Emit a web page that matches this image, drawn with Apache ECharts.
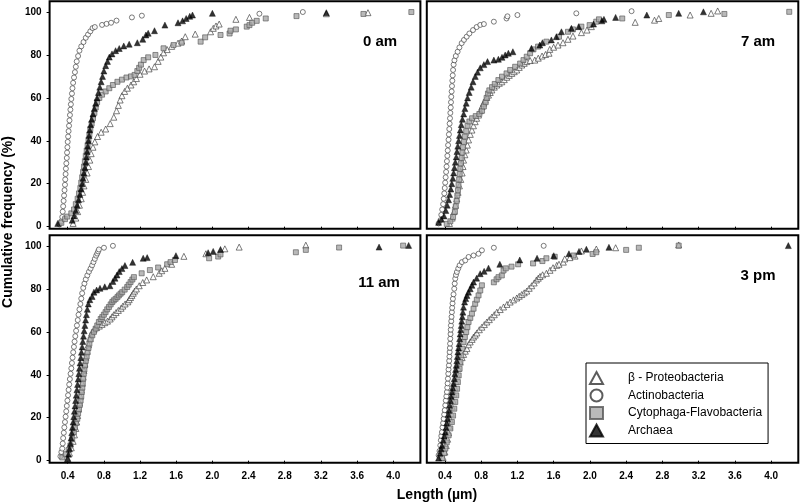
<!DOCTYPE html>
<html><head><meta charset="utf-8">
<script src="https://cdn.jsdelivr.net/npm/echarts@6/dist/echarts.min.js"></script>
<style>html,body{margin:0;padding:0;background:#fff}#c{width:800px;height:504px}</style>
</head><body><div id="c"></div>
<script>
const seriesNames = ['\u03B2 - Proteobacteria', 'Actinobacteria', 'Cytophaga-Flavobacteria', 'Archaea'];
const panelLabels = ['0 am', '7 am', '11 am', '3 pm'];
const xTicks = [0.4, 0.8, 1.2, 1.6, 2.0, 2.4, 2.8, 3.2, 3.6, 4.0];
const yTicks = [0, 20, 40, 60, 80, 100];
const xTitle = 'Length (\u00B5m)';
const yTitle = 'Cumulative frequency (%)';

// ---- 0 am ----
const beta0 = [[0.46,1.5],[0.49,4],[0.51,7],[0.53,10],[0.55,13],[0.565,16],[0.58,19],[0.60,22],[0.615,25],[0.63,28],[0.645,31],[0.66,34],[0.68,37],[0.70,39.5],[0.73,42],[0.77,44],[0.82,45.5],[0.87,48],[0.91,51],[0.94,54],[0.96,56.5],[0.98,59],[1.0,61],[1.03,63],[1.06,64.5],[1.10,66],[1.13,67.5],[1.16,69],[1.20,71],[1.25,72.5],[1.30,73.5],[1.36,74.5],[1.40,77],[1.43,79],[1.46,81],[1.50,82.5],[1.55,84],[1.62,85.5],[1.66,86.5],[1.70,88.5],[1.81,89.7],[1.98,90.8],[2.01,92.4],[2.04,93.5],[2.075,94.4],[2.26,96.6],[2.41,97.5],[3.26,99.2],[3.72,99.7]];
const actino0 = [[0.31,1],[0.33,2.5],[0.34,4.5],[0.345,7],[0.35,9.5],[0.355,12],[0.36,14.5],[0.365,17],[0.37,19.5],[0.373,22],[0.377,24.5],[0.38,27],[0.385,29.5],[0.39,32],[0.393,34.5],[0.397,37],[0.40,39.5],[0.405,42],[0.41,44.5],[0.415,47],[0.42,49.5],[0.425,52],[0.43,54.5],[0.435,57],[0.44,59.5],[0.447,62],[0.453,64.5],[0.46,67],[0.47,69.5],[0.48,72],[0.49,74.5],[0.50,77],[0.515,79.5],[0.53,82],[0.55,84],[0.575,86],[0.60,88],[0.625,89.5],[0.65,91],[0.675,92.5],[0.70,93],[0.78,94],[0.83,94.5],[0.88,95],[0.94,96],[1.11,97.5],[1.22,98.3],[2.52,99.2],[3.0,100]];
const cyto0 = [[0.33,1.8],[0.37,3.5],[0.395,4.7],[0.44,6.2],[0.47,8],[0.49,10.5],[0.51,13],[0.525,15.5],[0.54,18],[0.55,20.5],[0.56,23],[0.57,25.5],[0.58,28],[0.59,30.5],[0.60,33],[0.61,35.5],[0.62,38],[0.63,40.5],[0.64,43],[0.65,45.5],[0.665,48],[0.68,50.5],[0.695,53],[0.71,55.5],[0.725,58],[0.75,60],[0.78,61.5],[0.82,63],[0.86,64.5],[0.90,66],[0.95,67.5],[1.0,68.5],[1.05,69.5],[1.10,70],[1.14,70.7],[1.17,72.5],[1.19,74],[1.21,75.5],[1.24,77.6],[1.29,78.9],[1.37,80],[1.46,83.1],[1.57,84.6],[1.66,85.7],[1.87,86.2],[1.92,88.2],[2.09,89.3],[2.19,90],[2.2,91.3],[2.26,91.9],[2.38,93.2],[2.41,93.9],[2.44,95],[2.49,95.9],[2.59,97],[2.93,98.1],[3.67,99.1],[4.2,100]];
const arch0 = [[0.29,1.5],[0.45,3],[0.47,5],[0.49,7.5],[0.505,10],[0.52,12.5],[0.535,15],[0.548,17.5],[0.56,20],[0.57,22.5],[0.58,25],[0.59,27.5],[0.60,30],[0.607,32.5],[0.615,35],[0.622,37.5],[0.63,40],[0.637,42.5],[0.645,45],[0.655,47.5],[0.665,50],[0.68,52.5],[0.695,55],[0.71,57.5],[0.725,60],[0.74,62.5],[0.755,65],[0.77,67.5],[0.785,70],[0.80,72.5],[0.82,75],[0.84,77],[0.86,79],[0.89,80.5],[0.93,82],[0.97,83],[1.02,84.2],[1.08,85],[1.17,85.7],[1.23,87.3],[1.265,89.3],[1.29,90.1],[1.36,91.3],[1.475,93.9],[1.62,95],[1.67,95.9],[1.71,97],[1.75,98],[1.78,98.6],[2.0,99.4],[3.26,99.7]];

// ---- 7 am ----
const beta7 = [[0.45,1.5],[0.48,4],[0.50,7],[0.515,10],[0.53,13],[0.545,16],[0.56,19],[0.575,22],[0.59,25],[0.60,28],[0.606,31],[0.62,33.5],[0.635,35.7],[0.648,38],[0.661,40.4],[0.68,43],[0.698,45],[0.715,47],[0.734,48.9],[0.75,50.5],[0.771,52],[0.79,54],[0.808,55.9],[0.826,57.5],[0.844,59],[0.862,60.2],[0.881,61.3],[0.9,62.5],[0.918,63.7],[0.945,65],[0.973,66],[1.0,66.8],[1.028,67.5],[1.055,68.5],[1.083,69.6],[1.11,70.5],[1.138,71.4],[1.165,72.2],[1.193,73],[1.22,74.2],[1.248,75.3],[1.275,76.1],[1.303,76.9],[1.34,77.4],[1.392,77.6],[1.43,78.5],[1.472,79.5],[1.51,80.2],[1.549,80.8],[1.557,82.6],[1.60,83.6],[1.648,84.6],[1.703,85.7],[1.758,87.3],[1.813,88.8],[1.906,90.4],[1.968,91.6],[2.016,93.2],[2.5,95.2],[2.713,96.2],[2.76,97],[3.106,98.6],[3.338,99.4],[3.41,100.5]];
const actino7 = [[0.33,1.5],[0.35,3],[0.36,5.5],[0.37,8],[0.38,10.5],[0.387,13],[0.393,15.5],[0.398,18],[0.403,20.5],[0.408,23],[0.413,25.5],[0.418,28],[0.422,30.5],[0.427,33],[0.431,35.5],[0.435,38],[0.44,40.5],[0.444,43],[0.448,45.5],[0.452,48],[0.456,50.5],[0.46,53],[0.464,55.5],[0.467,58],[0.47,60.5],[0.474,63],[0.478,65.5],[0.482,68],[0.486,70.5],[0.49,73],[0.496,75.5],[0.505,77.5],[0.52,79.5],[0.54,81.5],[0.56,83.5],[0.585,85.5],[0.61,87],[0.64,88.5],[0.67,90],[0.71,91.6],[0.75,93],[0.79,94],[0.83,94.4],[0.94,95.5],[1.08,97],[1.09,98],[1.2,98.6],[1.85,99.4],[2.46,100.4]];
const cyto7 = [[0.42,1.3],[0.46,2.5],[0.49,4.5],[0.51,7],[0.52,9.5],[0.53,12],[0.537,14.5],[0.544,17],[0.55,19.5],[0.557,22],[0.563,24.5],[0.57,27],[0.577,29.5],[0.585,32],[0.593,34.5],[0.60,37],[0.61,39.5],[0.62,42],[0.635,44.5],[0.65,47],[0.67,49],[0.70,50.5],[0.74,51.5],[0.78,52.5],[0.81,54],[0.83,56],[0.85,58],[0.86,60],[0.875,62],[0.89,63.5],[0.92,65],[0.95,66.5],[0.99,68.3],[1.03,69.9],[1.08,71.4],[1.12,73],[1.175,74.5],[1.23,76],[1.267,77.6],[1.303,79.2],[1.34,80.8],[1.377,82.6],[1.428,83.9],[1.52,86.2],[1.659,88.5],[1.758,90.8],[1.813,91.9],[1.906,93.2],[1.997,93.9],[2.07,95.5],[2.1,96.6],[2.357,97],[2.871,98.6],[3.484,99.1],[4.2,100.1]];
const arch7 = [[0.33,2],[0.36,3.5],[0.39,5],[0.41,7.5],[0.425,10],[0.44,12.5],[0.452,15],[0.465,17.5],[0.476,20],[0.487,22.5],[0.496,25],[0.505,27.5],[0.515,30],[0.525,32.5],[0.533,35],[0.542,37.5],[0.551,40],[0.56,42.5],[0.57,45],[0.58,47.5],[0.593,50],[0.607,52.5],[0.62,55],[0.635,57.5],[0.65,60],[0.668,62.5],[0.69,65],[0.71,67.5],[0.735,70],[0.76,72],[0.79,74],[0.83,75.5],[0.87,76.9],[0.94,77.6],[0.99,78],[1.03,78.9],[1.065,80],[1.1,80.8],[1.15,81.5],[1.355,83.1],[1.447,84.6],[1.476,85.7],[1.575,87],[1.63,88.5],[1.686,90.8],[1.796,92.4],[1.876,93.2],[2.04,94.4],[2.133,95.9],[2.155,96.6],[2.284,97.5],[2.628,98.6],[2.98,99.4],[3.253,100.1]];

// ---- 11 am ----
const beta11 = [[0.40,1],[0.42,3.5],[0.44,6],[0.46,9],[0.475,12],[0.49,15],[0.50,18],[0.51,21],[0.52,24],[0.53,27],[0.54,30],[0.55,33],[0.56,36],[0.57,39],[0.58,42],[0.59,45],[0.60,48],[0.615,51],[0.63,54],[0.645,57],[0.665,59.5],[0.69,61],[0.72,62],[0.75,62.7],[0.78,63.5],[0.81,64.3],[0.84,65],[0.87,66],[0.89,67],[0.91,68],[0.935,69],[0.96,70],[0.99,71],[1.01,72],[1.035,73],[1.065,74],[1.08,75],[1.095,76],[1.11,77],[1.125,78],[1.14,79],[1.16,80],[1.191,81.5],[1.23,83],[1.273,84.2],[1.346,85.7],[1.412,87.3],[1.44,88.5],[1.475,89.6],[1.55,91.5],[1.685,95.2],[1.928,96.4],[2.138,98.7],[2.296,99.5],[3.033,100.4]];
const actino11 = [[0.32,2],[0.33,4],[0.34,5.6],[0.345,8],[0.35,10.5],[0.357,13],[0.363,15.5],[0.37,18],[0.377,20.5],[0.384,23],[0.39,25.5],[0.397,28],[0.404,30.5],[0.41,33],[0.417,35.5],[0.424,38],[0.432,40.5],[0.44,43],[0.447,45.5],[0.454,48],[0.461,50.5],[0.469,53],[0.476,55.5],[0.484,58],[0.493,60.5],[0.502,63],[0.511,65.5],[0.52,68],[0.53,70.5],[0.54,73],[0.55,75.5],[0.56,78],[0.572,80.5],[0.585,82.5],[0.60,84.5],[0.617,86.3],[0.635,88],[0.653,89.5],[0.67,91],[0.685,92.5],[0.70,94],[0.715,95.5],[0.727,96.5],[0.737,97.5],[0.745,98.4],[0.801,99.2],[0.9,100.1]];
const cyto11 = [[0.34,1.5],[0.38,3],[0.41,5],[0.43,7.1],[0.45,10],[0.469,13.3],[0.48,15.5],[0.49,17.5],[0.506,19.5],[0.515,22],[0.525,24],[0.535,26],[0.543,28],[0.55,30],[0.556,32],[0.562,34],[0.567,36],[0.572,38.2],[0.578,40.5],[0.585,42.5],[0.592,44.4],[0.60,46.5],[0.61,48.5],[0.62,50.5],[0.63,52.5],[0.64,54.5],[0.655,56.5],[0.672,58.4],[0.69,60],[0.709,61.5],[0.727,63],[0.745,64.6],[0.765,66],[0.782,66.9],[0.80,68],[0.819,69.2],[0.837,70.5],[0.856,71.6],[0.875,72.8],[0.893,73.9],[0.91,74.7],[0.93,75.4],[0.95,76.2],[0.966,77],[0.985,77.8],[1.003,78.5],[1.03,79.7],[1.058,80.9],[1.075,82],[1.095,83.2],[1.115,84.4],[1.132,85.5],[1.218,87.3],[1.309,88.8],[1.40,90],[1.50,91.5],[1.537,92.5],[1.586,93.5],[1.964,94.3],[2.064,95.1],[2.09,96.1],[2.923,97.1],[3.033,98.2],[3.401,99.3],[4.109,100.2]];
const arch11 = [[0.40,1],[0.41,3],[0.42,5.5],[0.43,8],[0.437,10.5],[0.445,13],[0.452,15.5],[0.46,18],[0.467,20.5],[0.474,23],[0.481,25.5],[0.488,28],[0.495,30.5],[0.502,33],[0.509,35.5],[0.516,38],[0.523,40.5],[0.53,43],[0.537,45.5],[0.545,48],[0.552,50.5],[0.56,53],[0.567,55.5],[0.575,58],[0.582,60.5],[0.59,63],[0.598,65.5],[0.607,68],[0.617,70.5],[0.628,73],[0.645,75],[0.67,76.5],[0.69,78.5],[0.72,79.5],[0.757,80.3],[0.81,81],[0.867,81.5],[0.9,83.5],[0.923,85],[0.945,86.5],[0.97,88.1],[1.0,89.5],[1.033,90.9],[1.118,92.4],[1.235,94.3],[1.279,94.6],[1.597,95.5],[1.953,96.9],[2.009,97.5],[2.09,98.4],[3.843,99.5],[4.17,100.3]];

// ---- 3 pm ----
const beta3 = [[0.38,1.5],[0.40,4],[0.415,7],[0.43,10],[0.44,13],[0.45,16],[0.46,19],[0.47,22],[0.48,25],[0.49,28],[0.50,31],[0.51,34],[0.52,37],[0.535,40],[0.55,43],[0.569,45.9],[0.59,48],[0.606,49.5],[0.625,51],[0.643,52.2],[0.66,54],[0.679,55.3],[0.70,56.5],[0.716,57.6],[0.735,58.5],[0.753,59.5],[0.78,61],[0.808,62.2],[0.835,63.4],[0.863,64.6],[0.89,65.7],[0.918,66.9],[0.945,68],[0.973,69.2],[1.01,70.4],[1.047,71.6],[1.085,72.8],[1.12,73.9],[1.157,74.9],[1.193,75.8],[1.22,76.6],[1.248,77.4],[1.275,78.2],[1.303,79],[1.33,80.3],[1.358,81.5],[1.385,82.8],[1.41,84.2],[1.43,85],[1.45,85.8],[1.478,86.6],[1.52,87.3],[1.56,88.7],[1.593,89.9],[1.634,91],[1.659,91.5],[1.707,92.5],[1.722,94],[1.78,94.6],[1.836,95.3],[1.906,97.7],[2.071,98.6],[2.284,99.2],[2.98,100.5]];
const actino3 = [[0.33,2.5],[0.34,4.5],[0.349,7.1],[0.355,9.5],[0.36,11.5],[0.367,13.3],[0.373,15.5],[0.38,17.5],[0.386,19.5],[0.392,21.5],[0.398,23.5],[0.404,25.8],[0.41,28],[0.416,30],[0.422,32],[0.426,34],[0.43,36],[0.433,38.2],[0.437,40.5],[0.44,42.5],[0.444,44.4],[0.447,46.5],[0.45,48.5],[0.452,50.6],[0.455,52.5],[0.457,54.5],[0.459,56.8],[0.462,59],[0.464,61],[0.466,63],[0.47,65],[0.473,67],[0.477,69.2],[0.48,71.2],[0.484,73.3],[0.488,75.4],[0.495,77.5],[0.503,80.1],[0.508,82.5],[0.514,84.8],[0.522,86.5],[0.532,87.9],[0.547,89.5],[0.562,91],[0.587,92.5],[0.624,93.3],[0.661,94.9],[0.716,95.6],[0.771,96.4],[0.808,98],[0.94,99.2],[1.49,100.1]];
const cyto3 = [[0.367,1.2],[0.39,3.5],[0.404,5.6],[0.42,8.5],[0.441,11.8],[0.46,15],[0.477,18],[0.49,21],[0.503,24.2],[0.514,27.3],[0.525,30.4],[0.534,33.5],[0.543,36.6],[0.552,39.7],[0.562,42.8],[0.571,46],[0.58,49],[0.593,52.2],[0.606,55.3],[0.62,57.6],[0.635,59.9],[0.648,62.2],[0.661,64.6],[0.68,66.5],[0.698,68.5],[0.716,70.8],[0.734,73.1],[0.752,75],[0.771,77],[0.79,79.3],[0.808,81.7],[0.94,83.1],[0.97,84.5],[0.991,85.5],[1.028,86.3],[1.047,88.6],[1.072,89.6],[1.135,90.4],[1.208,91.5],[1.373,91.9],[1.476,93],[1.52,94.3],[1.612,95],[1.82,95.6],[2.03,96.3],[2.07,97.1],[2.40,98.2],[2.54,99.2],[2.98,100.2]];
const arch3 = [[0.33,1.2],[0.345,3.5],[0.357,5.5],[0.367,7.1],[0.38,9.5],[0.392,11.5],[0.404,13.3],[0.412,15.5],[0.42,17.5],[0.43,19.5],[0.437,21.5],[0.445,23.5],[0.452,25.8],[0.46,28],[0.468,30],[0.477,32],[0.485,34],[0.494,36],[0.503,38.2],[0.51,40.5],[0.518,42.5],[0.525,44.4],[0.531,46.5],[0.537,48.5],[0.543,50.6],[0.55,52.5],[0.556,54.5],[0.562,56.8],[0.568,59],[0.574,61],[0.58,63],[0.586,65],[0.592,67],[0.598,69.2],[0.605,71.5],[0.617,73.9],[0.63,75.5],[0.643,77],[0.66,78.5],[0.679,80.1],[0.698,81.7],[0.716,83.2],[0.75,85],[0.789,87.1],[0.833,88.2],[0.881,89.7],[1.006,91.5],[1.226,93.5],[1.417,94.3],[1.601,95.5],[1.769,96.4],[1.88,97.5],[1.961,98.5],[2.21,99.4],[4.19,100.2]];

const panelData = [
  [beta0, actino0, cyto0, arch0],
  [beta7, actino7, cyto7, arch7],
  [beta11, actino11, cyto11, arch11],
  [beta3, actino3, cyto3, arch3]
];

// ---- styling / layout ----
const FONT = '"Liberation Sans", Arial, Helvetica, sans-serif';
const markerStyles = [
  {symbol: 'triangle', symbolSize: 6, itemStyle: {color: '#ffffff', borderColor: '#333', borderWidth: 0.8}},
  {symbol: 'circle', symbolSize: 5, itemStyle: {color: '#ffffff', borderColor: '#333', borderWidth: 0.8}},
  {symbol: 'rect', symbolSize: 5, itemStyle: {color: '#a8a8a8', borderColor: '#555', borderWidth: 0.8}},
  {symbol: 'triangle', symbolSize: 6, itemStyle: {color: '#000000', borderColor: '#000', borderWidth: 0.5}}
];
const gridRects = [
  {left: 49.6, top: 1.3, width: 370.8, height: 227.5},
  {left: 426.8, top: 1.3, width: 371.5, height: 227.5},
  {left: 49.6, top: 235.3, width: 370.8, height: 227.5},
  {left: 426.8, top: 235.3, width: 371.5, height: 227.5}
];
const labelPos = [[380, 42], [758, 42], [379, 282.5], [758, 276]];

const grid = gridRects.map(r => Object.assign({show: true, borderColor: '#000', borderWidth: 2, backgroundColor: 'transparent'}, r));
const xAxis = gridRects.map((r, i) => ({
  type: 'value', gridIndex: i, min: 0.2, max: 4.3,
  axisLine: {show: false}, splitLine: {show: false},
  axisTick: {show: true, inside: false, length: 3, customValues: xTicks, lineStyle: {color: '#000', width: 1}},
  axisLabel: {show: i >= 2, customValues: xTicks, formatter: v => Number(v).toFixed(1), fontFamily: FONT, fontSize: 10, fontWeight: 'bold', color: '#000', margin: 8}
}));
const yAxis = gridRects.map((r, i) => ({
  type: 'value', gridIndex: i, min: -1, max: 105,
  axisLine: {show: false}, splitLine: {show: false},
  axisTick: {show: i % 2 === 0, inside: false, length: 3, customValues: yTicks, lineStyle: {color: '#000', width: 1}},
  axisLabel: {show: i % 2 === 0, customValues: yTicks, fontFamily: FONT, fontSize: 10, fontWeight: 'bold', color: '#000', margin: 8}
}));

const series = [];
panelData.forEach((sets, p) => {
  sets.forEach((d, s) => {
    series.push(Object.assign({
      type: 'scatter', name: seriesNames[s], xAxisIndex: p, yAxisIndex: p, data: d,
      z: 2 + s, silent: true
    }, JSON.parse(JSON.stringify(markerStyles[s]))));
  });
});

const graphic = panelLabels.map((t, i) => ({
  type: 'text', x: labelPos[i][0], y: labelPos[i][1], z: 10,
  style: {text: t, font: 'bold 15px ' + FONT, fill: '#000', textAlign: 'center', textVerticalAlign: 'middle'}
}));
graphic.push({type: 'text', x: 437, y: 495, z: 10,
  style: {text: xTitle, font: 'bold 14px ' + FONT, fill: '#000', textAlign: 'center', textVerticalAlign: 'middle'}});
graphic.push({type: 'text', x: 8, y: 222, rotation: Math.PI / 2, z: 10,
  style: {text: yTitle, font: 'bold 14px ' + FONT, fill: '#000', textAlign: 'center', textVerticalAlign: 'middle'}});

const chart = echarts.init(document.getElementById('c'), null, {renderer: 'canvas'});
chart.setOption({
  animation: false,
  backgroundColor: '#fff',
  grid, xAxis, yAxis, series, graphic,
  legend: {
    data: seriesNames, selectedMode: false, orient: 'vertical',
    left: 586, top: 363, padding: [8, 6, 6, 3],
    itemWidth: 13, itemHeight: 12, itemGap: 3.5,
    borderColor: '#000', borderWidth: 1, backgroundColor: '#fff',
    textStyle: {fontFamily: FONT, fontSize: 12, color: '#000', padding: [0, 0, 0, 20], lineHeight: 12}
  }
});
</script></body></html>
